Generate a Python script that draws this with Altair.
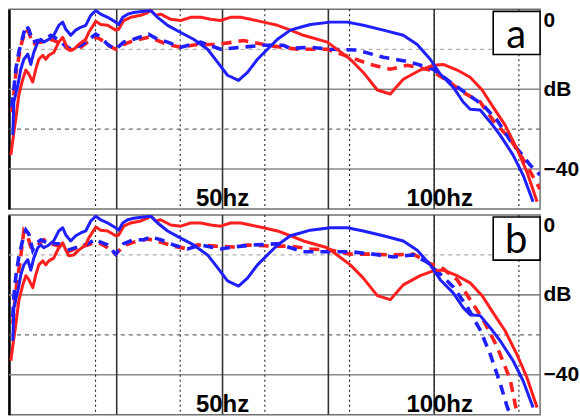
import altair as alt
import pandas as pd

# ---------------- data (frequency in Hz, level in dB) ----------------
red_solid_f = [25.0, 25.25, 25.41, 25.66, 26.00, 26.26, 26.52, 26.86, 27.13, 27.40,
               27.76, 28.03, 28.31, 28.77, 29.25, 29.63, 29.93, 30.22, 30.72, 31.22,
               31.95, 32.26, 33.02, 33.55, 34.33, 35.24, 35.59, 36.17, 37.02, 38.25,
               39.13, 39.53, 40.16, 40.84, 42.20, 43.60, 45.05, 46.55, 48.10, 49.67,
               51.33, 53.03, 54.79, 57.17, 59.86, 62.45, 65.16, 70.48, 75.98, 79.28,
               83.00, 86.60, 90.36, 95.53, 99.67, 102.99, 107.81, 112.49, 116.99, 121.28,
               126.13, 131.18, 135.53, 140.04]
red_solid_db = [-36.5, -30.8, -27.5, -21.5, -17.5, -15.2, -16.2, -18.2, -15.0, -12.5,
                -11.5, -12.5, -11.5, -10.8, -8.2, -7.0, -8.8, -10.2, -10.0, -8.8,
                -7.5, -5.8, -3.0, -3.8, -4.0, -5.2, -5.0, -2.8, -2.0, -1.5,
                -0.8, -0.2, -1.5, -1.2, -2.5, -2.8, -2.0, -2.0, -2.5, -2.8,
                -2.0, -2.0, -2.5, -3.2, -4.0, -5.2, -6.5, -8.2, -12.5, -15.8,
                -20.2, -21.2, -17.5, -15.2, -14.0, -13.8, -15.2, -17.0, -20.2, -24.5,
                -29.0, -35.0, -40.8, -48.2]

blue_solid_f = [25.16, 25.25, 25.58, 25.83, 26.09, 26.43, 26.69, 26.95, 27.31, 27.58,
                27.85, 28.31, 28.77, 29.25, 29.63, 29.93, 30.42, 30.92, 31.43, 31.95,
                32.48, 33.02, 33.55, 34.33, 35.24, 35.59, 36.06, 36.65, 37.38, 38.62,
                39.53, 40.43, 41.77, 43.60, 45.48, 47.61, 49.19, 50.82, 52.69, 54.26,
                56.06, 57.93, 59.86, 62.45, 64.52, 66.67, 71.18, 75.24, 79.28, 84.64,
                90.36, 94.59, 98.70, 101.98, 106.41, 109.95, 112.49, 116.24, 120.10, 124.10,
                129.47, 133.77, 138.22]
blue_solid_db = [-31.5, -23.2, -19.0, -15.0, -12.5, -11.2, -13.8, -10.8, -8.2, -7.5,
                 -8.2, -7.5, -6.5, -4.0, -3.2, -5.0, -6.5, -5.2, -4.5, -4.0,
                 -1.5, -0.3, -1.2, -2.0, -3.2, -3.8, -2.0, -1.2, -0.8, -0.5,
                 -0.3, -2.0, -4.0, -5.8, -7.5, -10.0, -13.2, -16.5, -17.8, -15.8,
                 -12.5, -10.0, -7.5, -5.2, -4.5, -3.8, -3.2, -3.2, -4.0, -5.2,
                 -6.5, -8.8, -12.5, -16.2, -19.5, -23.2, -25.0, -25.2, -28.2, -31.5,
                 -36.5, -41.5, -48.2]

# panel a dashed
a_blue_dash_f = [25.08, 25.25, 25.41, 25.66, 25.92, 26.26, 26.52, 26.86, 27.31, 27.85,
                 28.49, 29.15, 29.73, 30.42, 31.43, 32.16, 33.02, 33.55, 34.33, 35.24,
                 36.17, 37.38, 39.25, 40.43, 41.77, 43.60, 46.55, 49.67, 53.03, 57.17,
                 61.04, 62.45, 66.67, 71.18, 77.74, 84.64, 92.45, 99.67, 105.37, 111.39,
                 117.38, 122.87, 128.23, 132.49, 136.90, 141.42]
a_blue_dash_db = [-24.5, -20.0, -15.0, -10.8, -7.8, -4.0, -5.0, -8.2, -7.8, -7.8,
                  -6.5, -7.5, -8.8, -10.0, -9.0, -7.8, -6.2, -7.0, -8.8, -10.0,
                  -8.2, -7.5, -6.2, -7.5, -8.2, -9.5, -8.2, -10.0, -9.5, -9.0,
                  -9.0, -9.8, -9.5, -10.0, -10.2, -12.0, -13.2, -15.0, -18.2, -21.2,
                  -24.0, -27.8, -32.8, -35.8, -39.0, -41.5]
a_red_dash_f = [25.08, 25.25, 25.41, 25.66, 25.92, 26.26, 26.52, 26.86, 27.31, 27.85,
                28.49, 29.15, 29.73, 30.42, 31.43, 32.16, 33.02, 33.55, 34.33, 35.24,
                36.17, 37.38, 39.25, 40.43, 41.77, 43.60, 46.08, 48.87, 51.83, 53.55,
                57.93, 63.90, 70.48, 75.98, 81.12, 86.60, 91.55, 98.70, 104.34, 109.95,
                116.24, 121.28, 128.23, 133.77, 141.42]
a_red_dash_db = [-25.8, -21.2, -16.2, -12.0, -8.2, -5.0, -5.8, -8.8, -8.2, -8.2,
                 -7.5, -8.2, -9.2, -10.2, -9.5, -8.2, -7.0, -7.5, -9.0, -10.0,
                 -8.8, -7.8, -7.0, -7.8, -8.8, -9.5, -8.8, -8.8, -8.2, -7.8,
                 -9.0, -10.0, -10.0, -12.0, -13.8, -15.0, -14.0, -15.2, -17.8, -20.8,
                 -23.2, -27.8, -32.5, -37.5, -45.0]

# panel b dashed
b_blue_dash_f = [25.16, 25.25, 25.41, 25.66, 26.00, 26.26, 26.52, 26.86, 27.13, 27.58,
                 28.31, 29.25, 30.12, 31.12, 32.16, 33.02, 33.55, 34.33, 35.24, 36.17,
                 37.38, 38.62, 39.53, 40.84, 42.60, 44.59, 46.55, 49.67, 51.83, 55.33,
                 59.86, 62.45, 65.16, 69.57, 75.98, 81.92, 87.45, 93.36, 97.74, 101.98,
                 106.41, 111.39, 116.24, 120.10, 124.10, 126.96, 128.23]
b_blue_dash_db = [-25.5, -20.5, -15.5, -10.5, -6.2, -3.8, -4.8, -8.8, -7.2, -6.2,
                  -7.2, -7.2, -8.8, -8.0, -7.2, -6.0, -6.8, -7.5, -9.8, -7.2,
                  -6.2, -6.2, -5.5, -6.2, -7.5, -8.5, -7.5, -8.5, -8.0, -7.5,
                  -7.2, -8.2, -9.2, -9.2, -9.2, -9.8, -10.5, -10.0, -11.8, -14.8,
                  -18.0, -23.0, -28.8, -34.8, -42.2, -48.0, -50.0]
b_red_dash_f = [25.16, 25.33, 25.50, 25.75, 26.09, 26.43, 26.69, 27.13, 27.85, 28.49,
                29.25, 30.12, 31.12, 32.16, 33.02, 33.55, 34.33, 35.24, 36.17, 37.38,
                39.13, 40.84, 42.60, 44.59, 46.08, 48.87, 51.83, 54.26, 58.50, 62.45,
                66.67, 71.18, 75.98, 81.12, 87.45, 93.36, 98.70, 102.99, 107.81, 112.49,
                117.38, 122.87, 128.23, 131.18]
b_red_dash_db = [-27.2, -21.8, -16.8, -12.2, -4.0, -5.5, -8.0, -8.0, -6.2, -7.2,
                 -7.8, -9.2, -8.2, -7.5, -6.8, -7.2, -8.2, -9.8, -7.8, -6.8,
                 -6.0, -6.8, -7.8, -8.5, -7.5, -7.8, -8.0, -7.5, -7.8, -7.8,
                 -8.5, -8.8, -9.8, -9.8, -10.0, -9.8, -12.2, -13.5, -16.2, -21.2,
                 -26.2, -33.0, -41.2, -49.8]

# grid, labels
grid_solid_f = [35.36, 50.0, 70.71, 100.0]
grid_dotted_f = [32.99, 43.53, 57.43, 75.79, 100.0, 131.95]
grid_solid_db = [-20, -40]
grid_light_db = [-10]
grid_dark_db = [-30]
axis_ticks_db = [0, -20, -40]
hz_labels = ["50hz", "100hz"]
hz_label_f = [50.0, 101.8]
box_f = [121.3, 141.42]
box_db = [-0.5, -11.3]
box_text_f = 130.8
box_text_db = -9.6

F_DOMAIN = [24.85, 141.42]
DB_DOMAIN = [-50, 0]
RED = "#ff1f1f"
BLUE = "#1f1fff"

xs = alt.Scale(type="log", domain=F_DOMAIN, nice=False)
ys = alt.Scale(domain=DB_DOMAIN, nice=False, zero=False)


def line_layer(f, db, color, dashed):
    df = pd.DataFrame({"f": f, "db": db, "i": list(range(len(f)))})
    if dashed:
        m = alt.Chart(df).mark_line(color=color, clip=True, strokeWidth=3.6,
                                    strokeDash=[10, 7], strokeCap="butt")
    else:
        m = alt.Chart(df).mark_line(color=color, clip=True, strokeWidth=3,
                                    strokeJoin="round")
    return m.encode(
        x=alt.X("f:Q", scale=xs, axis=None),
        y=alt.Y("db:Q", scale=ys, axis=None),
        order="i:Q",
    )


def panel(letter, red_dash, blue_dash):
    h_light = alt.Chart(pd.DataFrame({"db": grid_light_db})).mark_rule(
        color="#b0b0b0", strokeWidth=1.2, strokeDash=[4, 4]).encode(
        y=alt.Y("db:Q", scale=ys,
                axis=alt.Axis(orient="left", labels=False, ticks=False, grid=False,
                              title=None, domain=True, domainColor="#000000",
                              domainWidth=2.5)))
    h_dark = alt.Chart(pd.DataFrame({"db": grid_dark_db})).mark_rule(
        color="#6a6a6a", strokeWidth=1.2, strokeDash=[4, 4]).encode(
        y=alt.Y("db:Q", scale=ys, axis=None))
    h_solid = alt.Chart(pd.DataFrame({"db": grid_solid_db})).mark_rule(
        color="#8a8a8a", strokeWidth=1.6).encode(
        y=alt.Y("db:Q", scale=ys,
                axis=alt.Axis(orient="right", values=axis_ticks_db, ticks=False,
                              domain=False, grid=False, title=None,
                              labelFont="Liberation Sans", labelFontWeight="bold",
                              labelFontSize=21, labelColor="#000000",
                              labelPadding=3, labelFlush=True,
                              labelExpr="datum.value == -20 ? 'dB' : datum.label")))
    v_dot = alt.Chart(pd.DataFrame({"f": grid_dotted_f})).mark_rule(
        color="#222222", strokeWidth=1.1, strokeDash=[2, 3]).encode(
        x=alt.X("f:Q", scale=xs, axis=None))
    v_solid = alt.Chart(pd.DataFrame({"f": grid_solid_f})).mark_rule(
        color="#333333", strokeWidth=1.6).encode(
        x=alt.X("f:Q", scale=xs, axis=None))

    lines = [
        line_layer(red_dash[0], red_dash[1], RED, True),
        line_layer(blue_dash[0], blue_dash[1], BLUE, True),
        line_layer(red_solid_f, red_solid_db, RED, False),
        line_layer(blue_solid_f, blue_solid_db, BLUE, False),
    ]

    hz = alt.Chart(pd.DataFrame({"f": hz_label_f, "t": hz_labels,
                                 "db": [DB_DOMAIN[0]] * 2})).mark_text(
        font="Liberation Sans", fontWeight="bold", fontSize=24, color="#000000",
        align="center", baseline="alphabetic", dy=-3).encode(
        x=alt.X("f:Q", scale=xs, axis=None),
        y=alt.Y("db:Q", scale=ys, axis=None),
        text="t:N")

    box = alt.Chart(pd.DataFrame({"f1": [box_f[0]], "f2": [box_f[1]],
                                  "d1": [box_db[0]], "d2": [box_db[1]]})).mark_rect(
        fill="#ffffff", stroke="#000000", strokeWidth=1.6).encode(
        x=alt.X("f1:Q", scale=xs, axis=None), x2="f2:Q",
        y=alt.Y("d1:Q", scale=ys, axis=None), y2="d2:Q")
    box_txt = alt.Chart(pd.DataFrame({"f": [box_text_f], "db": [box_text_db],
                                      "t": [letter]})).mark_text(
        font="Lato", fontSize=40, color="#000000", align="center",
        baseline="alphabetic").encode(
        x=alt.X("f:Q", scale=xs, axis=None),
        y=alt.Y("db:Q", scale=ys, axis=None),
        text="t:N")

    return alt.layer(h_light, h_dark, h_solid, v_dot, v_solid, *lines, hz, box,
                     box_txt).resolve_axis(y="independent").properties(
        width=532, height=200)


pa = panel("a", (a_red_dash_f, a_red_dash_db), (a_blue_dash_f, a_blue_dash_db))
pb = panel("b", (b_red_dash_f, b_red_dash_db), (b_blue_dash_f, b_blue_dash_db))

chart = alt.vconcat(pa, pb, spacing=6, bounds="flush").properties(
    padding={"left": 7, "top": 7, "right": 0, "bottom": 3},
    background="#ffffff",
).configure_view(stroke="#707070", strokeWidth=1.5)

chart.save("out.html", embed_options={"renderer": "svg", "actions": False})
